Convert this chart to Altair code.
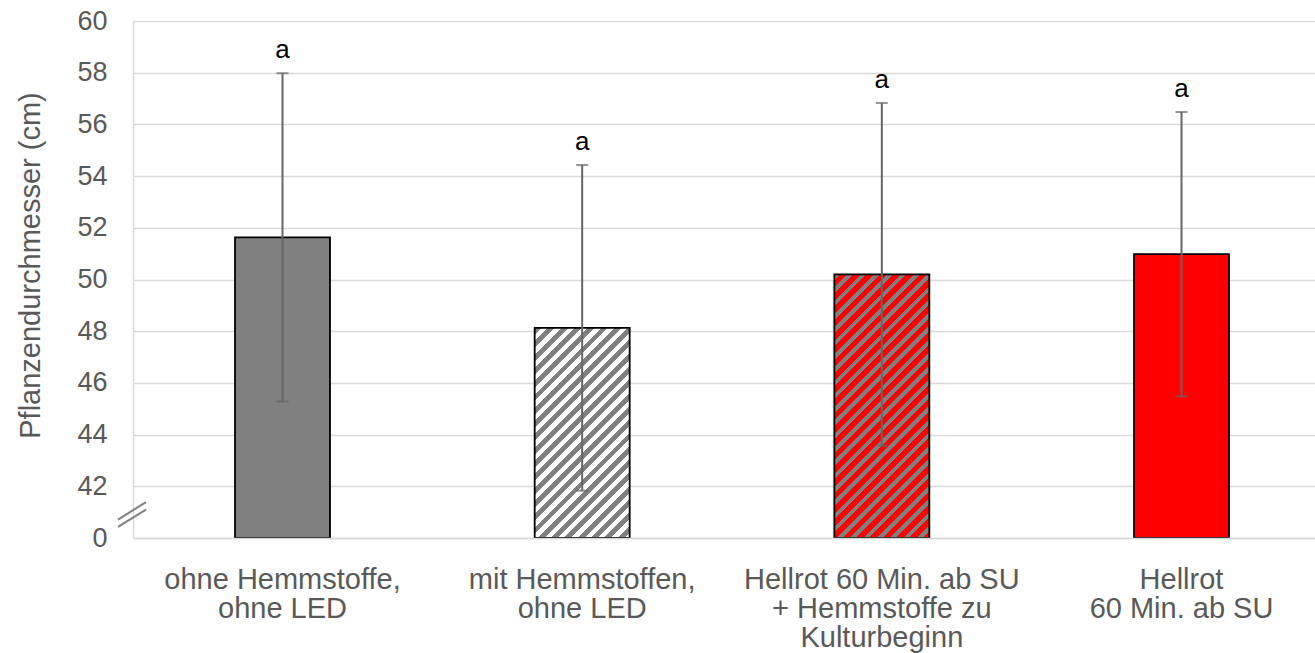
import altair as alt
import pandas as pd

# Treatment groups (line breaks mark the wrapped axis labels)
categories = [
    "ohne Hemmstoffe,\nohne LED",
    "mit Hemmstoffen,\nohne LED",
    "Hellrot 60 Min. ab SU\n+ Hemmstoffe zu\nKulturbeginn",
    "Hellrot\n60 Min. ab SU",
]
means = [51.63, 48.13, 50.20, 50.98]
errors = [6.35, 6.30, 6.63, 5.50]
letters = ["a", "a", "a", "a"]

# y axis runs 40..60; the bottom tick stands for the broken-off zero
y_ticks = [40, 42, 44, 46, 48, 50, 52, 54, 56, 58, 60]
Y_MIN, Y_MAX = 40, 60

# break marker ("//") on the y axis, in axis units
break_lo = [40.71, 40.43]
break_hi = [41.39, 41.10]

W, H = 1182, 517
PAD_INNER, PAD_OUTER, ALIGN = 0.683, 0.3137, 0.5426
FONT = "Liberation Sans"
GREY_TEXT = "#595959"
GRID = "#d9d9d9"

df = pd.DataFrame({
    "cat": categories,
    "mean": means,
    "base": [Y_MIN] * len(categories),
    "lo": [m - e for m, e in zip(means, errors)],
    "hi": [m + e for m, e in zip(means, errors)],
    "letter": letters,
})
breaks = pd.DataFrame({"y1": break_lo, "y2": break_hi})

# band geometry, used to size the diagonal hatching of the patterned bars
step = W / (len(categories) - PAD_INNER + 2 * PAD_OUTER)
band_w = step * (1 - PAD_INNER)


def hatch(value, c_stripe, c_back, period=13.3, frac=0.5):
    """Diagonal (/) stripes as a hard-stop linear gradient over the bar."""
    w = band_w
    h = (value - Y_MIN) / (Y_MAX - Y_MIN) * H
    total = w + h
    stops = []
    k = 0
    while k * period < total:
        o0 = min(1.0, k * period / total)
        o1 = min(1.0, (k * period + frac * period) / total)
        o2 = min(1.0, (k + 1) * period / total)
        stops += [
            alt.GradientStop(offset=o0, color=c_stripe),
            alt.GradientStop(offset=o1, color=c_stripe),
            alt.GradientStop(offset=o1, color=c_back),
            alt.GradientStop(offset=o2, color=c_back),
        ]
        k += 1
    a = total / (w * w + h * h)
    return alt.LinearGradient(gradient="linear", stops=stops,
                              x1=0, y1=0, x2=a * w, y2=a * h)


fills = [
    "#808080",
    hatch(means[1], "#808080", "#ffffff", frac=0.52),
    hatch(means[2], "#808080", "#ff0000", frac=0.42),
    "#ff0000",
]

x_enc = alt.X(
    "cat:N", sort=categories, title=None,
    scale=alt.Scale(paddingInner=PAD_INNER, paddingOuter=PAD_OUTER,
                    align=ALIGN, round=False),
    axis=alt.Axis(
        labelExpr="split(datum.label, '\\n')",
        labelAngle=0, labelFont=FONT, labelFontSize=29, labelColor=GREY_TEXT,
        labelLineHeight=29, labelBaseline="top", labelPadding=27,
        labelLimit=1000, labelOverlap=False,
        ticks=False, tickSize=0, domain=True, domainColor=GRID,
        domainWidth=1.5, grid=False, zindex=1,
    ),
)
y_scale = alt.Scale(domain=[Y_MIN, Y_MAX], nice=False, zero=False)

layers = []
for i, cat in enumerate(categories):
    layers.append(
        alt.Chart(df)
        .transform_filter(alt.datum.cat == cat)
        .mark_bar(fill=fills[i], stroke="#000000", strokeWidth=1.8)
        .encode(
            x=x_enc,
            y=alt.Y(
                "mean:Q", scale=y_scale,
                axis=alt.Axis(
                    values=y_ticks,
                    labelExpr="datum.value == 40 ? '0' : datum.label",
                    labelFont=FONT, labelFontSize=27, labelColor=GREY_TEXT,
                    labelPadding=26, ticks=False, tickSize=0,
                    domain=True, domainColor=GRID, domainWidth=1.5,
                    grid=True, gridColor=GRID, gridWidth=1.5,
                    title="Pflanzendurchmesser (cm)",
                    titleFont=FONT, titleFontSize=29, titleFontWeight="normal",
                    titleColor=GREY_TEXT, titleAngle=-90, titleX=-103,
                    titleY=244, titleAlign="center", titleBaseline="middle",
                ),
            ),
            y2="base:Q",
        )
    )

err_color = "#666666"
whisker = alt.Chart(df).mark_rule(color=err_color, strokeWidth=2).encode(
    x=alt.X("cat:N", sort=categories), y="lo:Q", y2="hi:Q"
)
cap_hi = alt.Chart(df).mark_tick(color=err_color, size=12, thickness=2,
                                 orient="horizontal").encode(
    x=alt.X("cat:N", sort=categories), y="hi:Q"
)
cap_lo = alt.Chart(df).mark_tick(color=err_color, size=12, thickness=2,
                                 orient="horizontal").encode(
    x=alt.X("cat:N", sort=categories), y="lo:Q"
)
letters_layer = alt.Chart(df).mark_text(
    font=FONT, fontSize=26, color="#000000", dy=-15, baseline="alphabetic"
).encode(x=alt.X("cat:N", sort=categories), y="hi:Q", text="letter:N")

break_mark = alt.Chart(breaks).mark_rule(color="#808080", strokeWidth=2).encode(
    x=alt.value(-15), x2=alt.value(13), y="y1:Q", y2="y2:Q"
)

chart = (
    alt.layer(*layers, whisker, cap_hi, cap_lo, letters_layer, break_mark)
    .properties(
        width=W, height=H,
        autosize=alt.AutoSizeParams(type="none"),
        padding={"left": 133, "top": 21, "right": 0, "bottom": 115},
    )
    .configure_view(stroke=None)
    .configure(background="#ffffff")
)

chart.save("out.html", embed_options={"renderer": "svg", "actions": False})
